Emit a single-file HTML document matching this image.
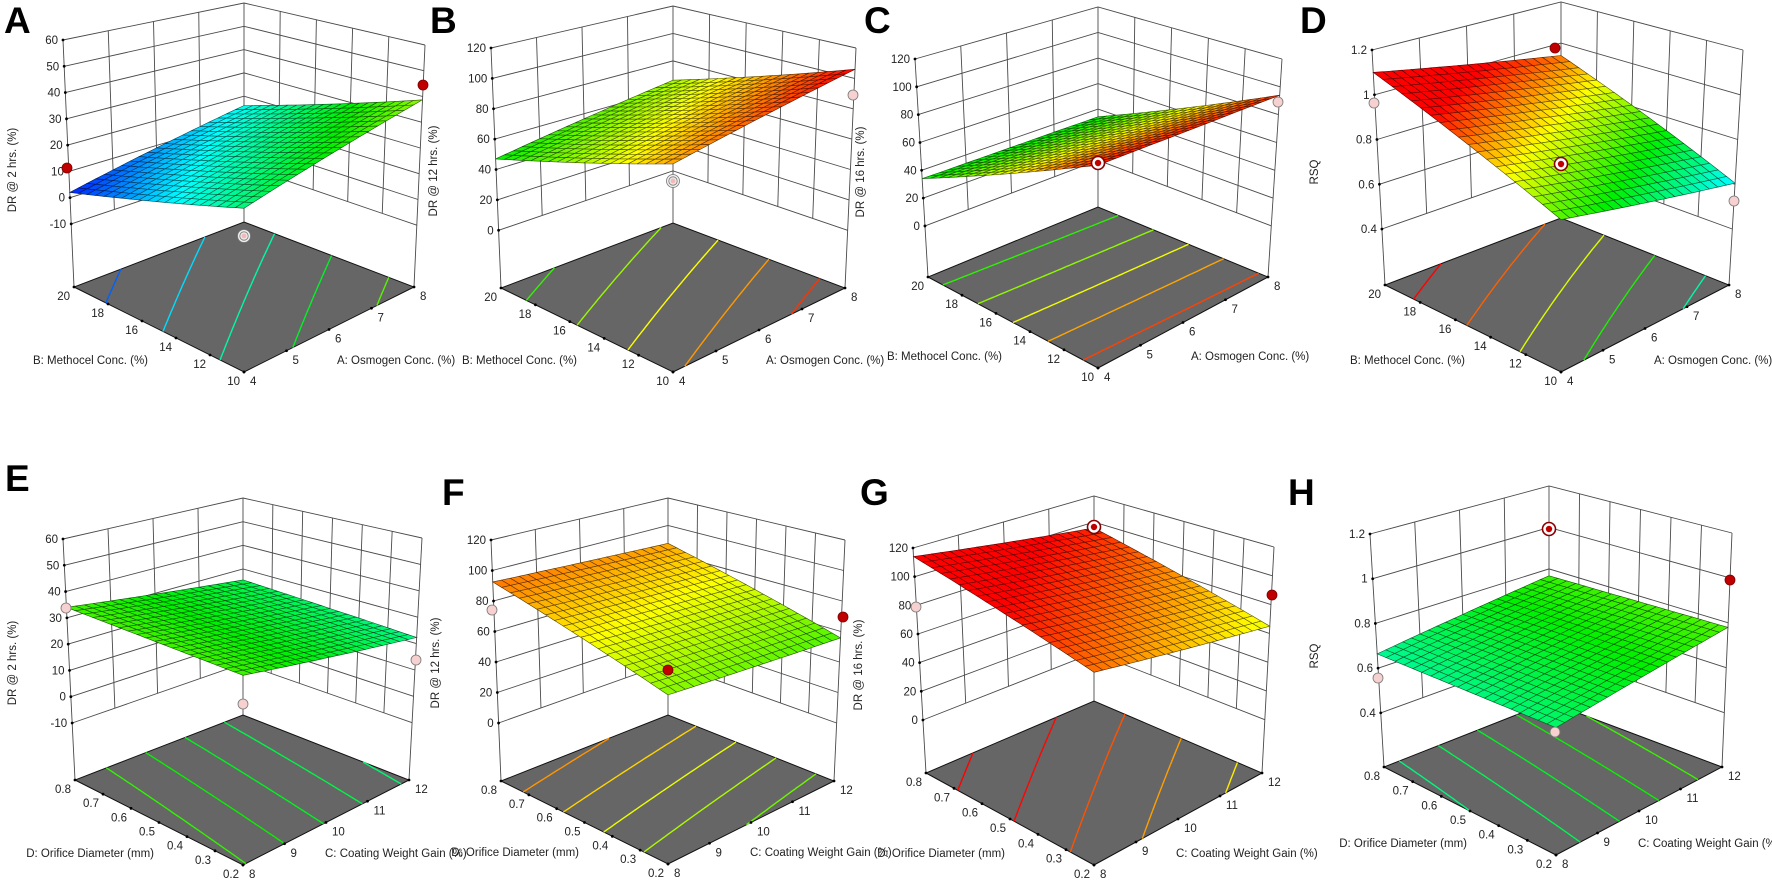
<!DOCTYPE html>
<html><head><meta charset="utf-8">
<style>
html,body{margin:0;padding:0;background:#fff;}
svg{display:block;font-family:"Liberation Sans",Arial,sans-serif;}
</style></head>
<body>
<svg id="fig" width="1772" height="881" viewBox="0 0 1772 881" xmlns="http://www.w3.org/2000/svg">
<rect width="1772" height="881" fill="#fff"/>
</svg>
<script>
// ---- data ----
const osmogenTicks = [4,5,6,7,8];
const methocelTicks = [10,12,14,16,18,20];
const coatingTicks = [8,9,10,11,12];
const orificeTicks = [0.2,0.3,0.4,0.5,0.6,0.7,0.8];
const dr2Ticks = [-10,0,10,20,30,40,50,60];
const dr12Ticks = [0,20,40,60,80,100,120];
const rsqTicks = [0.4,0.6,0.8,1,1.2];
// surface corner values: [front(a0,b0), right(a1,b0), left(a0,b1), back(a1,b1)]
const surfA = [23,38.7,2,16];
const surfB = [87,106,47,66];
const surfC = [98,94,34,34];
const surfD = [0.78,0.605,1.10,0.94];
const surfE = [33.7,22.3,34,25.4];
const surfF = [62.8,55.8,92.5,87];
const surfG = [86,65,114,95.5];
const surfH = [0.687,0.78,0.664,0.767];

const panels = [
 {k:'A',lt:[4,33],zt:'DR @ 2 hrs. (%)',ztp:[16,170],at:'A: Osmogen Conc. (%)',bt:'B: Methocel Conc. (%)',row:1,
  F:[244,372],L:[74,287],R:[414,287],B:[244,222],Lt:[63,40],Bt:[244,3],Rt:[425,45],zf:-34,ticks:dr2Ticks,surf:surfA,cm:[0,60],aT:osmogenTicks,bT:methocelTicks,
  mk:[['red',67,168],['red',423,85],['pring',244,236]]},
 {k:'B',lt:[430,33],zt:'DR @ 12 hrs. (%)',ztp:[437,171],at:'A: Osmogen Conc. (%)',bt:'B: Methocel Conc. (%)',row:1,
  F:[673,372],L:[501,288],R:[845,288],B:[673,223],Lt:[491,48],Bt:[673,6],Rt:[856,48],zf:-38,ticks:dr12Ticks,surf:surfB,cm:[-12,106],aT:osmogenTicks,bT:methocelTicks,
  mk:[['pring',673,181],['pink',853,95]]},
 {k:'C',lt:[864,33],zt:'DR @ 16 hrs. (%)',ztp:[864,172],at:'A: Osmogen Conc. (%)',bt:'B: Methocel Conc. (%)',row:1,
  F:[1098,368],L:[928,277],R:[1268,277],B:[1098,207],Lt:[915,59],Bt:[1098,7],Rt:[1282,59],zf:-36.7,ticks:dr12Ticks,surf:surfC,cm:[-30,100],aT:osmogenTicks,bT:methocelTicks,
  mk:[['ring',1098,163],['pink',1278,102]]},
 {k:'D',lt:[1300,33],zt:'RSQ',ztp:[1318,172],at:'A: Osmogen Conc. (%)',bt:'B: Methocel Conc. (%)',row:1,
  F:[1561,372],L:[1385,285],R:[1729,285],B:[1561,218],Lt:[1372,50],Bt:[1561,2],Rt:[1743,50],zf:0.15,ticks:rsqTicks,surf:surfD,cm:[0.48,1.0],aT:osmogenTicks,bT:methocelTicks,
  mk:[['red',1555,48],['pink',1374,103],['ring',1561,164],['pink',1734,201]]},
 {k:'E',lt:[5,491],zt:'DR @ 2 hrs. (%)',ztp:[16,663],at:'C: Coating Weight Gain (%)',bt:'D: Orifice Diameter (mm)',row:2,
  F:[243,865],L:[75,780],R:[409,780],B:[243,715],Lt:[63,539],Bt:[243,498],Rt:[422,538],zf:-31.7,ticks:dr2Ticks,surf:surfE,cm:[0,60],aT:coatingTicks,bT:orificeTicks,
  mk:[['pink',66,608],['pink',416,660],['pink',243,704]]},
 {k:'F',lt:[442,505],zt:'DR @ 12 hrs. (%)',ztp:[439,663],at:'C: Coating Weight Gain (%)',bt:'D: Orifice Diameter (mm)',row:2,
  F:[668,864],L:[501,781],R:[834,781],B:[668,715],Lt:[491,540],Bt:[668,498],Rt:[845,540],zf:-38,ticks:dr12Ticks,surf:surfF,cm:[-12,106],aT:coatingTicks,bT:orificeTicks,
  mk:[['pink',492,610],['red',843,617],['red',668,670]]},
 {k:'G',lt:[860,505],zt:'DR @ 16 hrs. (%)',ztp:[862,665],at:'C: Coating Weight Gain (%)',bt:'D: Orifice Diameter (mm)',row:2,
  F:[1094,865],L:[926,773],R:[1262,773],B:[1094,701],Lt:[913,548],Bt:[1094,496],Rt:[1274,547],zf:-37,ticks:dr12Ticks,surf:surfG,cm:[-30,100],aT:coatingTicks,bT:orificeTicks,
  mk:[['ring',1094,527],['pink',916,607],['red',1272,595]]},
 {k:'H',lt:[1288,505],zt:'RSQ',ztp:[1318,656],at:'C: Coating Weight Gain (%)',bt:'D: Orifice Diameter (mm)',row:2,
  F:[1556,855],L:[1384,767],R:[1722,767],B:[1549,702],Lt:[1370,534],Bt:[1549,486],Rt:[1732,533],zf:0.158,ticks:rsqTicks,surf:surfH,cm:[0.48,1.0],aT:coatingTicks,bT:orificeTicks,
  mk:[['ring',1549,529],['pink',1378,678],['red',1730,580],['pink',1555,732]]}
];

const NS='http://www.w3.org/2000/svg';
const svg=document.getElementById('fig');
function mk(parent,tag,attrs){const e=document.createElementNS(NS,tag);for(const k in attrs)e.setAttribute(k,attrs[k]);parent.appendChild(e);return e;}

function jet(t){
  t=Math.max(0,Math.min(1,t));
  const st=[[0,[0,0,255]],[0.25,[0,255,255]],[0.5,[0,240,0]],[0.75,[255,255,0]],[1,[255,0,0]]];
  for(let i=0;i<st.length-1;i++){
    if(t<=st[i+1][0]){const f=(t-st[i][0])/(st[i+1][0]-st[i][0]);const a=st[i][1],b=st[i+1][1];
      return [0,1,2].map(j=>Math.round(a[j]+(b[j]-a[j])*f));}
  }
  return [255,0,0];
}
function rgb(c,s){s=s||1;return 'rgb('+Math.round(c[0]*s)+','+Math.round(c[1]*s)+','+Math.round(c[2]*s)+')';}

panels.forEach(p=>{
  const ztop=p.ticks[p.ticks.length-1];
  const sideH=((p.L[1]-p.Lt[1])+(p.R[1]-p.Rt[1]))/2, backH=p.B[1]-p.Bt[1];
  const Ft=[p.F[0],p.F[1]-(2*sideH-backH)];
  function bil(P0,P1,P2,P3,a,b){
    return [0,1].map(i=>P0[i]*(1-a)*(1-b)+P1[i]*a*(1-b)+P2[i]*(1-a)*b+P3[i]*a*b);}
  function proj(a,b,z){
    const w=(z-p.zf)/(ztop-p.zf);
    const f=bil(p.F,p.R,p.L,p.B,a,b), t=bil(Ft,p.Rt,p.Lt,p.Bt,a,b);
    return [f[0]*(1-w)+t[0]*w, f[1]*(1-w)+t[1]*w];}
  function zval(a,b){const s=p.surf;return s[0]*(1-a)*(1-b)+s[1]*a*(1-b)+s[2]*(1-a)*b+s[3]*a*b;}
  // planar fit for contour lines (straight contours)
  const s=p.surf, m=(s[0]+s[1]+s[2]+s[3])/4, ga=((s[1]+s[3])-(s[0]+s[2]))/2, gb=((s[2]+s[3])-(s[0]+s[1]))/2;
  function zplane(a,b){return m+ga*(a-0.5)+gb*(b-0.5);}
  function col(z){return jet((z-p.cm[0])/(p.cm[1]-p.cm[0]));}
  const pt=q=>q[0].toFixed(1)+','+q[1].toFixed(1);

  const g=mk(svg,'g',{});
  
  

  const walls=mk(g,'g',{stroke:'#4a4a4a','stroke-width':'0.9',fill:'none'});
  
  
  const nA=p.aT.length-1, nB=p.bT.length-1, zlow=p.ticks[0];
  p.ticks.forEach(z=>{
    mk(walls,'polyline',{points:[proj(0,1,z),proj(1,1,z),proj(1,0,z)].map(pt).join(' ')});
  });
  for(let i=1;i<nA;i++) mk(walls,'line',{x1:proj(i/nA,1,zlow)[0],y1:proj(i/nA,1,zlow)[1],x2:proj(i/nA,1,ztop)[0],y2:proj(i/nA,1,ztop)[1]});
  for(let j=1;j<nB;j++) mk(walls,'line',{x1:proj(1,j/nB,zlow)[0],y1:proj(1,j/nB,zlow)[1],x2:proj(1,j/nB,ztop)[0],y2:proj(1,j/nB,ztop)[1]});
  [[0,1],[1,1],[1,0]].forEach(c=>{const q0=proj(c[0],c[1],p.zf),q1=proj(c[0],c[1],ztop);
    mk(walls,'line',{x1:q0[0],y1:q0[1],x2:q1[0],y2:q1[1]});});

  const floor=mk(g,'polygon',{points:[p.F,p.R,p.B,p.L].map(pt).join(' '),fill:'#666','stroke':'#111','stroke-width':'1'});
  
  

  let zmin=Math.min(...p.surf), zmax=Math.max(...p.surf);
  const cg=mk(g,'g',{'stroke-width':'1.4',fill:'none'});
  
  
  const N=40;
  for(let k=0;k<5;k++){
    const lev=zmin+(zmax-zmin)*(k+0.5)/5;
    let d='';
    for(let i=0;i<N;i++)for(let j=0;j<N;j++){
      const a0=i/N,a1=(i+1)/N,b0=j/N,b1=(j+1)/N;
      const c=[[a0,b0],[a1,b0],[a1,b1],[a0,b1]];
      const v=c.map(q=>zplane(q[0],q[1])-lev);
      const pts=[];
      for(let e=0;e<4;e++){const u=c[e],w=c[(e+1)%4],va=v[e],vb=v[(e+1)%4];
        if((va<0)!==(vb<0)){const f=va/(va-vb);pts.push([u[0]+(w[0]-u[0])*f,u[1]+(w[1]-u[1])*f]);}}
      if(pts.length>=2){const q0=proj(pts[0][0],pts[0][1],p.zf),q1=proj(pts[1][0],pts[1][1],p.zf);
        d+='M'+pt(q0)+'L'+pt(q1);}
    }
    const cl=mk(cg,'path',{d:d,stroke:rgb(col(lev))});
    
    
  }

  const sg=mk(g,'g',{'stroke-width':'0.6'});
  
  
  const M=20, cells=[];
  for(let i=0;i<M;i++)for(let j=0;j<M;j++)cells.push([i,j]);
  cells.sort((x,y)=>(y[0]+y[1])-(x[0]+x[1]));
  cells.forEach(([i,j])=>{
    const a0=i/M,a1=(i+1)/M,b0=j/M,b1=(j+1)/M;
    const q=[[a0,b0],[a1,b0],[a1,b1],[a0,b1]].map(c=>proj(c[0],c[1],zval(c[0],c[1])));
    const cc=col(zval((a0+a1)/2,(b0+b1)/2));
    const cell=mk(sg,'polygon',{points:q.map(pt).join(' '),fill:rgb(cc),stroke:rgb(cc,0.35)});
    
    
  });

  const tg=mk(g,'g',{'font-size':'11.5',fill:'#222'});
  
  
  p.ticks.forEach(z=>{const q=proj(0,1,z);
    mk(tg,'circle',{cx:q[0],cy:q[1],r:1.4,fill:'#000'});
    const t=mk(tg,'text',{x:q[0]-5,y:q[1]+4,'text-anchor':'end'});t.textContent=String(z);
    
    });
  p.aT.forEach((v,i)=>{const q=proj(i/nA,0,p.zf);
    mk(tg,'circle',{cx:q[0],cy:q[1],r:1.4,fill:'#000'});
    const t=mk(tg,'text',{x:q[0]+6,y:q[1]+13,'text-anchor':'start'});t.textContent=String(v);
    
    });
  p.bT.forEach((v,j)=>{const q=proj(0,j/nB,p.zf);
    mk(tg,'circle',{cx:q[0],cy:q[1],r:1.4,fill:'#000'});
    const t=mk(tg,'text',{x:q[0]-4,y:q[1]+13,'text-anchor':'end'});t.textContent=String(v);
    
    });
  const off=p.row===1?[96,93,-8]:[89,82,-8];
  const bt=mk(tg,'text',{x:p.F[0]-off[0],y:p.F[1]+off[2],'text-anchor':'end'});bt.textContent=p.bt;
  
  
  const at=mk(tg,'text',{x:p.F[0]+off[1],y:p.F[1]+off[2],'text-anchor':'start'});at.textContent=p.at;
  
  
  const zt=mk(tg,'text',{x:p.ztp[0],y:p.ztp[1],'text-anchor':'middle',transform:'rotate(-90 '+p.ztp[0]+' '+p.ztp[1]+')'});zt.textContent=p.zt;
  
  

  p.mk.forEach(m=>{
    const [ty,x,y]=m;
    const mg=mk(g,'g',{});
    
    
    if(ty==='red'){mk(mg,'circle',{cx:x,cy:y,r:5,fill:'#c00000',stroke:'#7a0000','stroke-width':'0.8'});}
    else if(ty==='pink'){mk(mg,'circle',{cx:x,cy:y,r:5,fill:'#f7d0d0',stroke:'#777','stroke-width':'0.8'});}
    else if(ty==='ring'){mk(mg,'circle',{cx:x,cy:y,r:6.5,fill:'#fff',stroke:'#8a0000','stroke-width':'1.6'});
      mk(mg,'circle',{cx:x,cy:y,r:3.2,fill:'#c00000'});}
    else {mk(mg,'circle',{cx:x,cy:y,r:6.5,fill:'#eee',stroke:'#777','stroke-width':'0.8'});
      mk(mg,'circle',{cx:x,cy:y,r:4.2,fill:'none',stroke:'#777','stroke-width':'0.8'});
      mk(mg,'circle',{cx:x,cy:y,r:2.5,fill:'#f4b8b8'});}
  });

  const lt=mk(g,'text',{x:p.lt[0],y:p.lt[1],'font-size':'37','font-weight':'bold',fill:'#000'});
  lt.textContent=p.k;
  
  
});
</script>
</body></html>
